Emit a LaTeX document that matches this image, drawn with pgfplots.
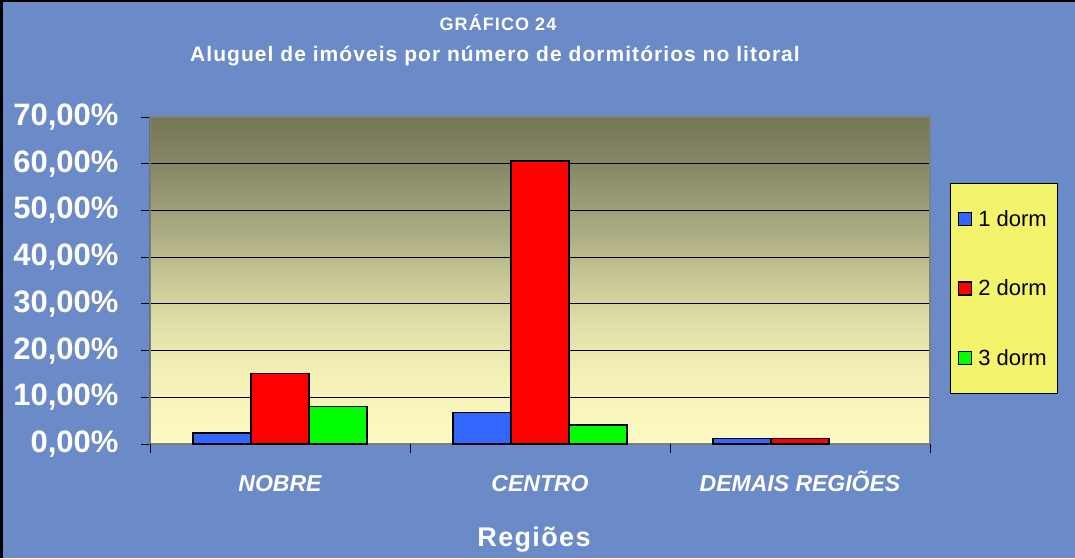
\documentclass[border=0pt]{standalone}
\usepackage{pgfplots}
\pgfplotsset{compat=1.18}
\usepackage{fontspec}
\setmainfont{Liberation Sans}
\newfontfamily\titlefont[LetterSpace=5]{Liberation Sans}
\newfontfamily\headfont[LetterSpace=6]{Liberation Sans}

\definecolor{bgblue}{HTML}{6B8BC8}
\definecolor{legyellow}{HTML}{F4F46C}
\definecolor{dormblue}{HTML}{3366FF}
\definecolor{dormred}{HTML}{FF0000}
\definecolor{dormgreen}{HTML}{00FF00}
\definecolor{bga}{HTML}{FCFAC2}
\definecolor{bgb}{HTML}{F3F1B6}
\definecolor{bgc}{HTML}{E0DFA8}
\definecolor{bgd}{HTML}{C8C796}
\definecolor{bge}{HTML}{ADAD85}
\definecolor{bgf}{HTML}{898A68}
\definecolor{bgg}{HTML}{767656}

\pgfdeclareverticalshading{plotbg}{100bp}{color(0bp)=(bga); color(25bp)=(bga);
  color(35.7bp)=(bgb); color(43.35bp)=(bgc); color(50.2bp)=(bgd);
  color(57.1bp)=(bge); color(67bp)=(bgf); color(75bp)=(bgg); color(100bp)=(bgg)}

\begin{document}
\begin{tikzpicture}
\fill[bgblue] (0,0) rectangle (1075pt,558pt);
\path[use as bounding box] (0,0) rectangle (1075pt,558pt);
\draw[black, line width=5pt] (0,0) -- (0,558pt) -- (1075pt,558pt);

\node[white, anchor=base] at (498pt,527pt) {\headfont\bfseries\fontsize{18}{18}\selectfont GRÁFICO 24};
\node[white, anchor=base] at (495pt,496pt) {\titlefont\bfseries\fontsize{21}{21}\selectfont Aluguel de imóveis por número de dormitórios no litoral};
\node[white, anchor=base] at (534pt,12pt) {\titlefont\bfseries\fontsize{27}{27}\selectfont Regiões};

\begin{axis}[
  at={(150pt,114pt)}, anchor=south west,
  scale only axis, width=780pt, height=327pt,
  xmin=-0.5, xmax=2.5, ymin=0, ymax=70,
  ybar=0pt, bar width=58pt,
  axis background/.style={shade, shading=plotbg},
  axis line style={draw=gray, line width=1.5pt},
  ymajorgrids, grid style={black, line width=0.9pt},
  tick pos=left,
  ytick={0,10,...,70},
  yticklabels={{0,00\%},{10,00\%},{20,00\%},{30,00\%},{40,00\%},{50,00\%},{60,00\%},{70,00\%}},
  yticklabel style={white, font=\bfseries\fontsize{31}{31}\selectfont, anchor=east, xshift=-19pt},
  tick align=outside,
  major tick length=9pt,
  y tick style={black, line width=0.9pt},
  xtick={0,1,2},
  xticklabels={NOBRE,CENTRO,DEMAIS REGIÕES},
  xticklabel style={white, font=\bfseries\itshape\fontsize{23}{23}\selectfont, anchor=base, yshift=-38pt},
  x tick style={draw=none},
  extra x ticks={-0.5,0.5,1.5,2.5},
  extra x tick labels={},
  extra x tick style={x tick style={draw=black, line width=0.9pt}},
  legend style={at={(1.0256,0.798)}, anchor=north west, fill=legyellow, draw=black,
    font=\fontsize{22}{22}\selectfont, row sep=48pt, column sep=4pt,
    inner xsep=8pt, inner ysep=25pt},
  legend cell align=left,
  legend image code/.code={\draw[#1, draw=black, line width=1.2pt] (2pt,-6.5pt) rectangle (15pt,6.5pt);},
]
\addplot[fill=dormblue, draw=black, line width=1.5pt] coordinates {(0,2.4) (1,6.7) (2,1.2)};
\addplot[fill=dormred, draw=black, line width=1.5pt] coordinates {(0,15.1) (1,60.6) (2,1.2)};
\addplot[fill=dormgreen, draw=black, line width=1.5pt] coordinates {(0,8.0) (1,4.1)};
\legend{1 dorm, 2 dorm, 3 dorm}
\draw[black, line width=1pt] (rel axis cs:0,0) -- (rel axis cs:0,1);
\end{axis}
\end{tikzpicture}
\end{document}
